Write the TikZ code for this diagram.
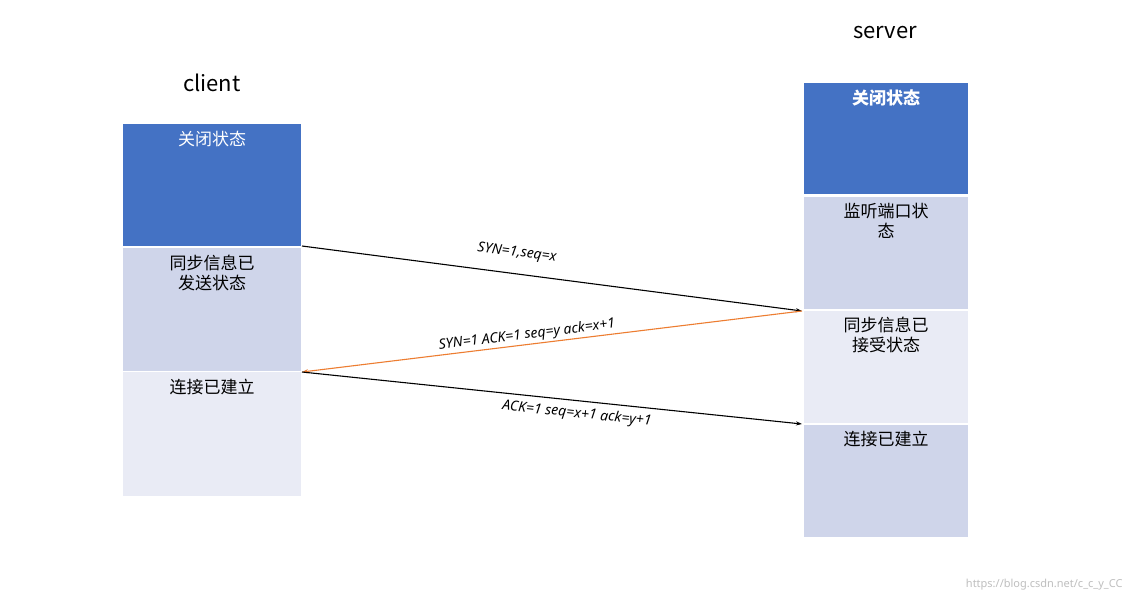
\documentclass[tikz,border=0pt]{standalone}
\usepackage{fontspec}
\usetikzlibrary{arrows.meta}
\setmainfont{Noto Sans CJK SC}
\newfontfamily\lbl{Noto Sans}[ItalicFont={Noto Sans Italic}]
\definecolor{dk}{HTML}{4472C4}
\definecolor{md}{HTML}{CFD5EA}
\definecolor{lt}{HTML}{E9EBF5}
\definecolor{orn}{HTML}{ED7D31}
\begin{document}
\begin{tikzpicture}[x=1pt,y=-1pt,
  bx/.style={anchor=north west,inner sep=0pt,align=center,font=\fontsize{17}{20}\selectfont},
  lab/.style={font=\lbl\itshape\fontsize{14}{16}\selectfont,inner sep=1pt},
  arr/.style={-{Stealth[length=6pt,width=4pt]},line width=1.1pt}]
\useasboundingbox (0,0) rectangle (1134,603);
\fill[white] (0,0) rectangle (1134,603);
\node[font=\fontsize{22}{24}\selectfont] (cl) at (212,83) {client};
\node[font=\fontsize{22}{24}\selectfont] (sv) at (885,33) {server};
% client
\fill[dk] (123,124) rectangle (301,246);
\fill[md] (123,248) rectangle (301,371);
\fill[lt] (123,372) rectangle (301,496);
\node[bx,text=white] (c1) at (212,131) [anchor=north] {关闭状态};
\node[bx] (c2) at (212,255) [anchor=north] {同步信息已\\发送状态};
\node[bx] (c3) at (212,379) [anchor=north] {连接已建立};
% server
\fill[dk] (804,83) rectangle (968,194);
\fill[md] (804,197) rectangle (968,309);
\fill[lt] (804,311) rectangle (968,423);
\fill[md] (804,425) rectangle (968,537);
\node[bx,text=white,font=\bfseries\fontsize{17}{20}\selectfont] (s1) at (886,90) [anchor=north] {关闭状态};
\node[bx] (s2) at (886,203) [anchor=north] {监听端口状\\态};
\node[bx] (s3) at (886,317) [anchor=north] {同步信息已\\接受状态};
\node[bx] (s4) at (886,431) [anchor=north] {连接已建立};
\coordinate (a1) at (302,246);
\coordinate (b1) at (802,311);
\coordinate (a2) at (302,372);
\coordinate (b2) at (802,424);
\draw[arr] (a1) -- (b1);
\draw[arr,orn] (b1) -- (a2);
\draw[arr] (a2) -- (b2);
\node[lab,rotate=-7.4] (l1) at (517,253) {SYN=1,seq=x};
\node[lab,rotate=7] (l2) at (527,335) {SYN=1 ACK=1 seq=y ack=x+1};
\node[lab,rotate=-6] (l3) at (577,414) {ACK=1 seq=x+1 ack=y+1};
\node[text=black!25,font=\lbl\fontsize{11}{12}\selectfont,anchor=east] (wm) at (1126,585) {https://blog.csdn.net/c\_c\_y\_CC};
\end{tikzpicture}
\end{document}
